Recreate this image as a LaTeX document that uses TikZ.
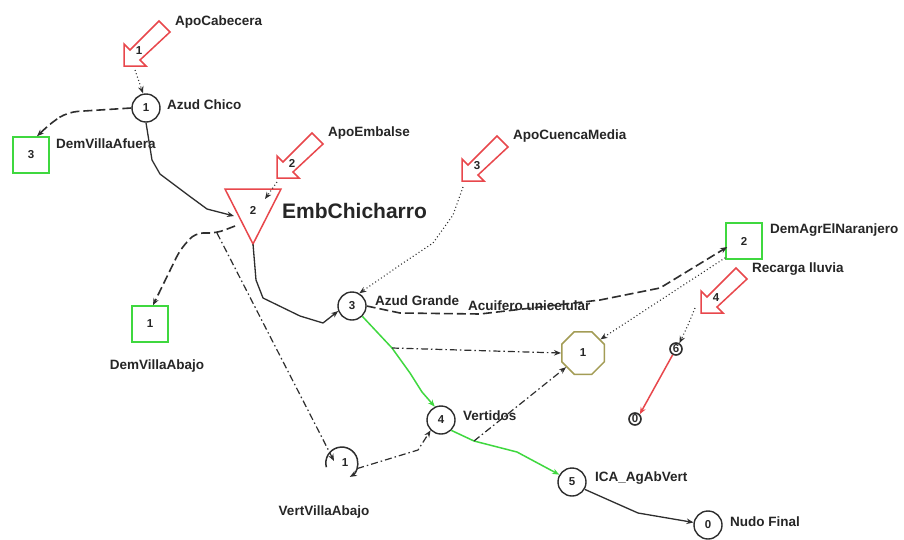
\documentclass[tikz,border=0pt]{standalone}
\usepackage{fontspec}
\setmainfont{Liberation Sans}
\usetikzlibrary{arrows.meta,shapes.geometric}
\definecolor{ln}{HTML}{2E2E2E}
\definecolor{apored}{HTML}{E8474C}
\definecolor{grn}{HTML}{3FD83F}
\definecolor{olivec}{HTML}{A39C55}
\definecolor{txt}{HTML}{262626}
\begin{document}
\begin{tikzpicture}[x=1pt,y=-1pt,
 lbl/.style={font=\bfseries\fontsize{13.5}{15}\selectfont, text=txt, inner sep=0pt, anchor=west},
 num/.style={font=\bfseries\fontsize{11.5}{13}\selectfont, text=txt, inner sep=0pt},
 cnode/.style={circle, draw=ln, line width=1.4pt, minimum size=28pt, inner sep=0pt, num},
 snode/.style={rectangle, draw=grn, line width=1.5pt, minimum size=36pt, inner sep=0pt, num},
 tnode/.style={circle, draw=ln, line width=1.6pt, minimum size=12pt, inner sep=0pt, text=ln, font=\bfseries\fontsize{11.5}{11}\selectfont},
 arr/.style={-{Stealth[length=7pt,width=5.5pt]}},
 solidc/.style={arr, draw=ln, line width=1.3pt},
 dashc/.style={arr, draw=ln, line width=1.6pt, dash pattern=on 9pt off 4pt},
 dotc/.style={arr, draw=ln, line width=1.1pt, dash pattern=on 1pt off 2.5pt},
 dashdotc/.style={arr, draw=ln, line width=1.2pt, dash pattern=on 7pt off 3pt on 1.5pt off 3pt},
 greenc/.style={arr, draw=grn, line width=1.5pt},
 redc/.style={arr, draw=apored, line width=1.5pt},
 apo/.pic={\draw[apored, line width=1.5pt, line join=miter] (0,0) -- (0,-22) -- (6,-16) -- (35,-45) -- (46,-34) -- (16,-6) -- (22,0) -- cycle;
   \node[num] at (15,-15) {#1};
   \coordinate (-tip) at (0,0);}
]
\fill[white] (0,0) rectangle (904,539);
\useasboundingbox (0,0) rectangle (904,539);

% block arrows (inflows)
\pic (a1) at (124,66) {apo=1};
\pic (a2) at (277,178) {apo=2};
\pic (a3) at (462,181) {apo=3};
\pic (a4) at (701,313) {apo=4};

% reservoir triangle
\draw[apored, line width=1.5pt, line join=miter] (225,189) -- (281,189) -- (253,244) -- cycle;
\node[num] (emb) at (253,210) {2};
\coordinate (embL) at (234,216);
\coordinate (embD) at (235,226);
\coordinate (embT) at (265,199);
\coordinate (embB) at (253,244);
\coordinate (embS) at (217,233);

% nodes
\node[cnode] (azch) at (146,108) {1};
\node[snode] (dvaf) at (31,155) {3};
\node[snode] (dvab) at (150,324) {1};
\node[cnode] (azgr) at (352,306) {3};
\node[snode] (dagr) at (744,241) {2};
\node[regular polygon, regular polygon sides=8, draw=olivec, line width=1.5pt, minimum size=46pt, inner sep=0pt, num] (oct) at (583,353) {1};
\node[cnode] (vert) at (441,420) {4};
\node[circle, minimum size=32pt, inner sep=0pt] (vva) at (342,463) {};
\node[num] at (345,463) {1};
\node[cnode] (ica) at (572,482) {5};
\node[cnode] (nf) at (708,525) {0};
\node[tnode] (n6) at (676,349) {6};
\node[tnode] (n0) at (635,419) {0};

% rotating symbol of VertVillaAbajo
\draw[arr, draw=ln, line width=1.5pt] (vva.195) arc[start angle=-195, end angle=60, radius=16];

% labels
\node[lbl] at (175,22) {ApoCabecera};
\node[lbl] at (167,105) {Azud Chico};
\node[lbl] at (56,144) {DemVillaAfuera};
\node[lbl] at (328,133) {ApoEmbalse};
\node[lbl, font=\bfseries\fontsize{21}{24}\selectfont] at (282,211) {EmbChicharro};
\node[lbl] at (513,136) {ApoCuencaMedia};
\node[lbl] at (770,230) {DemAgrElNaranjero};
\node[lbl] at (752,269) {Recarga lluvia};
\node[lbl] at (375,301) {Azud Grande};
\node[lbl] at (468,306) {Acuifero unicelular};
\node[lbl, anchor=center] at (157,366) {DemVillaAbajo};
\node[lbl] at (463,416) {Vertidos};
\node[lbl, anchor=center] at (324,512) {VertVillaAbajo};
\node[lbl] at (595,478) {ICA\_AgAbVert};
\node[lbl] at (730,522) {Nudo Final};

% connectors
\draw[dotc] ([shift={(11,4)}]a1-tip) -- ([shift={(-3,0)}]azch.north);
\draw[dashc, rounded corners=10pt] (azch.west) -- (68,112) -- (52,122) -- ([shift={(6,0)}]dvaf.north);
\draw[solidc] (azch.south) -- (152,160) -- (160,174) -- (192,198) -- (207,209) -- (embL);
\draw[dashc, rounded corners=8pt] (embD) -- (embS) -- (195,233) -- (180,250) -- ([shift={(3,0)}]dvab.north);
\draw[dashdotc] (embS) -- ([shift={(-8,-2)}]vva.center);
\draw[solidc] (embB) -- (256,280) -- (263,298) -- (300,316) -- (323,323) -- (azgr.200);
\draw[dotc] ([shift={(0,4)}]a2-tip) -- (embT);
\draw[dotc] ([shift={(1,6)}]a3-tip) -- (453,215) -- (433,243) -- (403,263) -- (azgr.60);
\draw[dashc] (azgr.east) -- (400,313) -- (480,314) -- (600,300) -- (660,288) -- ([shift={(2,6)}]dagr.west);
\draw[dotc] ([shift={(0,-2)}]dagr.south west) -- (oct.38);
\coordinate (g1) at (392,348);
\coordinate (g2) at (474,441);
\draw[greenc] (azgr.south east) -- (g1) -- (410,373) -- (422,392) -- (vert.115);
\draw[greenc] (vert.south east) -- (g2) -- (517,452) -- (ica.150);
\draw[dashdotc] (g1) -- (oct.west);
\draw[dashdotc] (g2) -- (oct.220);
\draw[solidc] (ica.330) -- (638,513) -- (nf.170);
\draw[dashdotc] (vva.340) -- (418,450) -- (vert.225);
\draw[dotc] ([shift={(-6,-5)}]a4-tip) -- (688,325) -- (n6.60);
\draw[redc] (n6.240) -- (n0.north east);
\end{tikzpicture}
\end{document}
